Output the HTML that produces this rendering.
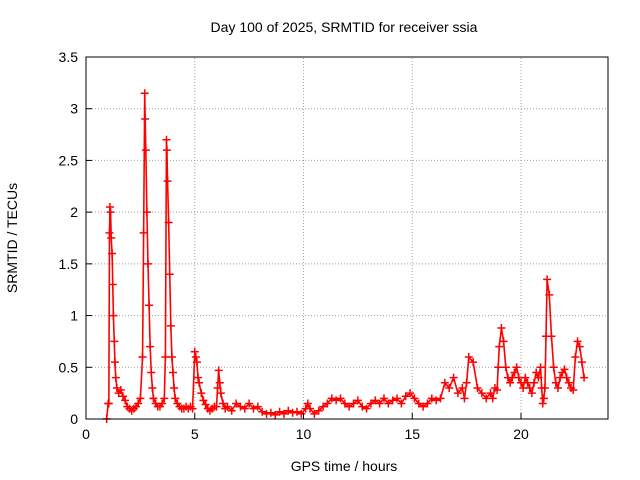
<!DOCTYPE html>
<html><head><meta charset="utf-8"><style>
body{margin:0;background:#fff;}
svg{display:block;font-family:"Liberation Sans",sans-serif;}
</style></head><body>
<svg id="chart" width="640" height="480">
<text x="344" y="32" font-size="14" text-anchor="middle">Day 100 of 2025, SRMTID for receiver ssia</text>
<text x="344" y="471" font-size="14" text-anchor="middle">GPS time / hours</text>
<text transform="translate(17,238) rotate(-90)" font-size="14" text-anchor="middle">SRMTID / TECUs</text>
<g id="grid"></g><g id="series"></g><g id="axes"></g>
</svg>
<script>
const xTicks=[0,5,10,15,20];
const yTicks=[0,0.5,1,1.5,2,2.5,3,3.5];
const yTickLabels=["0","0.5","1","1.5","2","2.5","3","3.5"];
const times=[0.95,1.02,1.05,1.08,1.1,1.13,1.16,1.2,1.23,1.26,1.3,1.33,1.37,1.42,1.5,1.6,1.7,1.8,1.9,2.0,2.1,2.2,2.3,2.4,2.5,2.6,2.65,2.7,2.72,2.75,2.8,2.85,2.9,2.95,3.0,3.05,3.1,3.2,3.3,3.4,3.5,3.6,3.65,3.7,3.72,3.75,3.8,3.85,3.9,3.95,4.0,4.05,4.1,4.2,4.3,4.4,4.5,4.6,4.7,4.8,4.9,5.0,5.05,5.1,5.15,5.2,5.3,5.4,5.5,5.6,5.7,5.8,5.9,6.0,6.05,6.1,6.15,6.2,6.3,6.4,6.5,6.7,6.9,7.1,7.3,7.5,7.7,7.9,8.1,8.3,8.5,8.7,8.9,9.1,9.3,9.5,9.7,9.9,10.1,10.2,10.3,10.5,10.7,10.9,11.1,11.3,11.5,11.7,11.9,12.1,12.3,12.5,12.7,12.9,13.1,13.3,13.5,13.7,13.9,14.1,14.3,14.5,14.7,14.9,15.1,15.3,15.5,15.7,15.9,16.1,16.3,16.5,16.7,16.9,17.1,17.3,17.4,17.5,17.6,17.8,18.0,18.2,18.4,18.6,18.7,18.8,18.9,18.95,19.0,19.1,19.2,19.3,19.4,19.5,19.6,19.7,19.8,19.9,20.0,20.1,20.2,20.3,20.4,20.5,20.6,20.7,20.8,20.9,20.95,21.0,21.05,21.1,21.15,21.2,21.3,21.4,21.5,21.6,21.7,21.8,21.9,22.0,22.1,22.2,22.3,22.4,22.5,22.6,22.7,22.8,22.9];
const values=[0.0,0.15,0.15,1.8,2.05,2.0,1.75,1.6,1.3,1.0,0.75,0.55,0.4,0.3,0.25,0.28,0.22,0.18,0.12,0.1,0.08,0.1,0.12,0.15,0.2,0.6,1.8,3.15,2.9,2.6,2.0,1.5,1.1,0.7,0.45,0.3,0.2,0.15,0.12,0.12,0.15,0.2,0.6,2.7,2.6,2.3,1.9,1.4,0.9,0.6,0.45,0.3,0.2,0.15,0.12,0.1,0.1,0.12,0.1,0.12,0.1,0.65,0.6,0.55,0.4,0.35,0.25,0.18,0.14,0.1,0.08,0.1,0.12,0.12,0.3,0.47,0.35,0.25,0.15,0.1,0.12,0.08,0.15,0.12,0.1,0.15,0.1,0.12,0.07,0.05,0.06,0.04,0.07,0.05,0.08,0.06,0.07,0.05,0.1,0.15,0.1,0.05,0.08,0.12,0.15,0.2,0.18,0.2,0.15,0.12,0.15,0.18,0.12,0.1,0.15,0.18,0.15,0.2,0.15,0.18,0.2,0.15,0.22,0.25,0.2,0.15,0.12,0.15,0.2,0.18,0.2,0.35,0.3,0.4,0.25,0.3,0.2,0.35,0.6,0.55,0.3,0.25,0.2,0.25,0.2,0.3,0.28,0.5,0.7,0.88,0.75,0.5,0.4,0.35,0.4,0.45,0.5,0.4,0.35,0.3,0.4,0.35,0.3,0.25,0.35,0.45,0.4,0.5,0.3,0.15,0.2,0.3,0.8,1.35,1.2,0.8,0.5,0.35,0.3,0.4,0.45,0.48,0.4,0.35,0.3,0.28,0.6,0.75,0.7,0.55,0.4,0.3,0.4,0.5,0.48];
const X0=86,X1=608,Y0=419,Y1=57,XMAX=24,YMAX=3.5;
const xs=v=>X0+(X1-X0)*v/XMAX, ys=v=>Y0-(Y0-Y1)*v/YMAX;
const NS="http://www.w3.org/2000/svg";
function mk(t,a,p){const e=document.createElementNS(NS,t);for(const k in a)e.setAttribute(k,a[k]);p.appendChild(e);return e;}
const grid=document.getElementById('grid'),axes=document.getElementById('axes'),ser=document.getElementById('series');
xTicks.forEach(t=>{const x=xs(t);
 if(t>0){const g=mk('line',{x1:x,x2:x,y1:Y0,y2:Y1,stroke:'#a0a0a0','stroke-dasharray':'1,2'},grid);
 }
 const tk=mk('line',{x1:x,x2:x,y1:Y0,y2:Y0-6,stroke:'#000'},axes);
 
 const l=mk('text',{x:x,y:Y0+20,'font-size':14,'text-anchor':'middle'},axes);l.textContent=t;
 });
yTicks.forEach((t,i)=>{const y=ys(t);
 if(t>0&&t<YMAX){const g=mk('line',{x1:X0,x2:X1,y1:y,y2:y,stroke:'#a0a0a0','stroke-dasharray':'1,2'},grid);
 }
 const tk=mk('line',{x1:X0,x2:X0+6,y1:y,y2:y,stroke:'#000'},axes);
 
 const l=mk('text',{x:X0-8,y:y+5,'font-size':14,'text-anchor':'end'},axes);l.textContent=yTickLabels[i];
 });
const box=mk('rect',{x:X0,y:Y1,width:X1-X0,height:Y0-Y1,fill:'none',stroke:'#000'},axes);

const pl=mk('polyline',{points:times.map((t,i)=>xs(t)+','+ys(values[i])).join(' '),fill:'none',stroke:'#f00','stroke-width':1.6},ser);

times.forEach((t,i)=>{const x=xs(t),y=ys(values[i]);
 const p=mk('path',{d:`M${x-4},${y}H${x+4}M${x},${y-4}V${y+4}`,stroke:'#f00','stroke-width':1.5},ser);
 });
</script>
</body></html>
